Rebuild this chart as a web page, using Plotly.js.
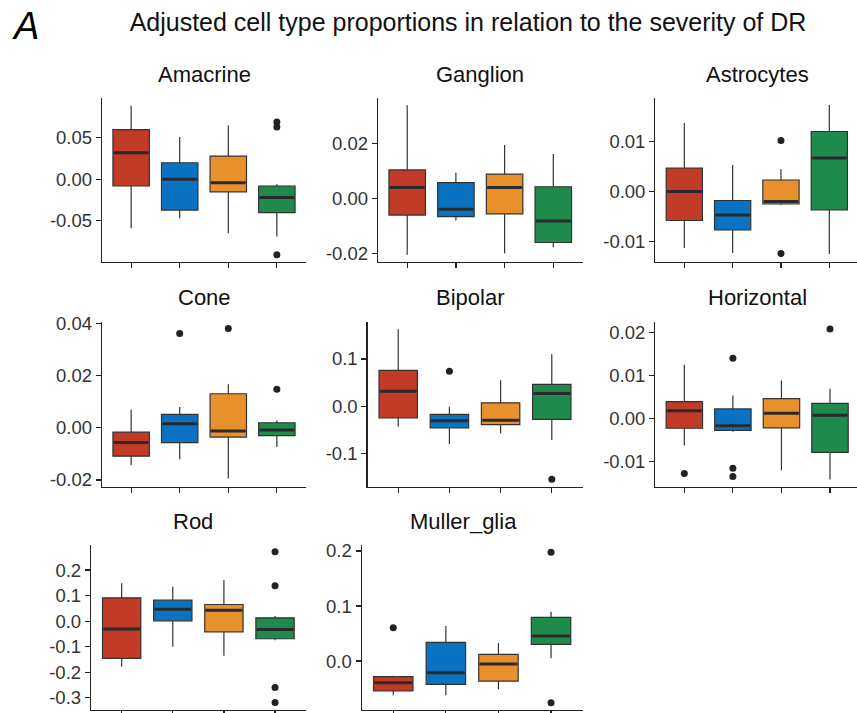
<!DOCTYPE html>
<html>
<head>
<meta charset="utf-8">
<script src="https://cdn.plot.ly/plotly-3.0.1.min.js"></script>
<style>
html,body{margin:0;padding:0;background:#fff;}
#chart{width:857px;height:713px;}
</style>
</head>
<body>
<div id="chart"></div>
<script>
// ---------- DATA ----------
const panels = ["Amacrine","Ganglion","Astrocytes","Cone","Bipolar","Horizontal","Rod","Muller_glia"];
const groups = [1,2,3,4];
const groupColors = ["#C23B26","#0A72C3","#E8912C","#1E8A4C"];

const upperFence = [
  [0.0887, 0.051, 0.065, -0.006],
  [0.0339, 0.0093, 0.0194, 0.0161],
  [0.0137, 0.0053, 0.0045, 0.0173],
  [0.007, 0.0079, 0.0166, 0.0028],
  [0.163, -0.0014, 0.055, 0.11],
  [0.0126, 0.0054, 0.0089, 0.007],
  [0.148, 0.135, 0.161, 0.02],
  [-0.0267, 0.0636, 0.033, 0.0897]
];
const q3 = [
  [0.060, 0.020, 0.028, -0.008],
  [0.0103, 0.0057, 0.0088, 0.0042],
  [0.0047, -0.0018, 0.0023, 0.012],
  [-0.0017, 0.0051, 0.013, 0.0019],
  [0.076, -0.0176, 0.007, 0.046],
  [0.004, 0.0023, 0.0047, 0.0036],
  [0.091, 0.082, 0.065, 0.013],
  [-0.0285, 0.034, 0.012, 0.0794]
];
const median = [
  [0.032, 0.0, -0.004, -0.022],
  [0.0039, -0.004, 0.0039, -0.0083],
  [0.0, -0.0047, -0.002, 0.0067],
  [-0.0057, 0.0015, -0.0013, -0.0009],
  [0.0318, -0.031, -0.0297, 0.027],
  [0.0019, -0.0016, 0.0013, 0.0008],
  [-0.031, 0.046, 0.043, -0.033],
  [-0.0394, -0.0212, -0.0055, 0.0455]
];
const q1 = [
  [-0.008, -0.037, -0.015, -0.040],
  [-0.0061, -0.0067, -0.0057, -0.0161],
  [-0.0058, -0.0077, -0.0025, -0.0037],
  [-0.0109, -0.0057, -0.0036, -0.003],
  [-0.0247, -0.046, -0.039, -0.028],
  [-0.0022, -0.0027, -0.0021, -0.0078],
  [-0.146, 0.001, -0.042, -0.069],
  [-0.0545, -0.0424, -0.0364, 0.0303]
];
const lowerFence = [
  [-0.059, -0.047, -0.065, -0.069],
  [-0.0206, -0.0081, -0.020, -0.0178],
  [-0.0113, -0.0123, -0.0027, -0.0125],
  [-0.0144, -0.0121, -0.0195, -0.0074],
  [-0.0438, -0.0805, -0.058, -0.072],
  [-0.0062, -0.003, -0.012, -0.0141],
  [-0.179, -0.1, -0.136, -0.075],
  [-0.062, -0.062, -0.0515, 0.0049]
];
const outlierGroup = [
  [4,4,4],
  [],
  [3,3],
  [2,3,4],
  [2,4],
  [1,2,2,2,4],
  [4,4,4,4],
  [1,4,4]
];
const outlierValue = [
  [0.069, 0.063, -0.091],
  [],
  [0.0102, -0.0124],
  [0.0361, 0.038, 0.0147],
  [0.0741, -0.155],
  [-0.0127, 0.0141, -0.0115, -0.0134, 0.0209],
  [0.272, 0.138, -0.26, -0.319],
  [0.0606, 0.1976, -0.0758]
];
const yTickVals = [
  [-0.10,-0.05,0.00,0.05],
  [-0.02,0.00,0.02],
  [-0.01,0.00,0.01],
  [-0.02,0.00,0.02,0.04],
  [-0.1,0.0,0.1],
  [-0.01,0.00,0.01,0.02],
  [-0.3,-0.2,-0.1,0.0,0.1,0.2],
  [0.0,0.1,0.2]
];
const yTickText = [
  ["-0.10","-0.05","0.00","0.05"],
  ["-0.02","0.00","0.02"],
  ["-0.01","0.00","0.01"],
  ["-0.02","0.00","0.02","0.04"],
  ["-0.1","0.0","0.1"],
  ["-0.01","0.00","0.01","0.02"],
  ["-0.3","-0.2","-0.1","0.0","0.1","0.2"],
  ["0.0","0.1","0.2"]
];
const yRanges = [
  [-0.0996, 0.098],
  [-0.0232, 0.0365],
  [-0.0141, 0.0187],
  [-0.0226, 0.0406],
  [-0.1708, 0.179],
  [-0.0158, 0.0226],
  [-0.348, 0.298],
  [-0.089, 0.2109]
];
const mainTitle = "Adjusted cell type proportions in relation to the severity of DR";
const panelLetter = "A";

// ---------- LAYOUT (pixels) ----------
const W = 857, H = 713;
const pxX = [[102,306],[378,582.5],[655.3,857],[102,306],[367.5,582.5],[655.2,857],[91,305.7],[361.7,582.6]];
const xRangeEnd = [4.6,4.6,4.573,4.6,4.6,4.556,4.6,4.6];
const pxY = [[98,262],[98,262],[98,262],[321.7,486.7],[321.7,486.7],[321.7,486.7],[545,710],[545,710]];
const titleY = [75,75,75,297,297,297,521.5,521.5];

const FONT = "Liberation Sans, Arial, Helvetica, sans-serif";
const BOX_W = 0.75;
const traces = [];
const layout = {
  width: W, height: H,
  margin: {l:0,r:0,t:0,b:0},
  paper_bgcolor: "#fff", plot_bgcolor: "#fff",
  showlegend: false,
  boxmode: "overlay",
  font: {family: FONT, color: "#222"},
  title: {text: mainTitle, x: 468/W, xanchor: "center", y: 1-22/H, yanchor: "middle",
          font: {family: FONT, size: 25, color: "#111"}},
  annotations: [],
  hovermode: false
};

panels.forEach((name, p) => {
  const sfx = p === 0 ? "" : String(p+1);
  const xa = "x" + sfx, ya = "y" + sfx;
  groups.forEach((g, k) => {
    traces.push({
      type: "box", xaxis: xa, yaxis: ya,
      x: [g], q1: [q1[p][k]], median: [median[p][k]], q3: [q3[p][k]],
      lowerfence: [lowerFence[p][k]], upperfence: [upperFence[p][k]],
      width: BOX_W, whiskerwidth: 0, boxpoints: false,
      fillcolor: groupColors[k],
      line: {color: "#333", width: 1.2}
    });
  });
  const mx = [], my = [];
  groups.forEach((g, k) => {
    mx.push(g - BOX_W/2 + 0.02, g + BOX_W/2 - 0.02, null);
    my.push(median[p][k], median[p][k], null);
  });
  traces.push({type:"scatter", mode:"lines", xaxis: xa, yaxis: ya, x: mx, y: my,
    line: {color:"#2a2a2a", width: 3}, hoverinfo:"skip"});
  if (outlierGroup[p].length) {
    traces.push({type:"scatter", mode:"markers", xaxis: xa, yaxis: ya,
      x: outlierGroup[p], y: outlierValue[p],
      marker: {color:"#222", size: 7}, hoverinfo:"skip"});
  }
  layout["xaxis" + sfx] = {
    domain: [pxX[p][0]/W, pxX[p][1]/W], range: [0.4, xRangeEnd[p]], anchor: ya,
    showgrid: false, zeroline: false, showline: true, linecolor: "#222", linewidth: 1.2,
    ticks: "outside", ticklen: 5, tickwidth: 1.2, tickcolor: "#222",
    tickvals: groups, showticklabels: false, fixedrange: true
  };
  layout["yaxis" + sfx] = {
    domain: [1 - pxY[p][1]/H, 1 - pxY[p][0]/H], range: yRanges[p], anchor: xa,
    showgrid: false, zeroline: false, showline: true, linecolor: "#222", linewidth: 1.2,
    ticks: "outside", ticklen: 5, tickwidth: 1.2, tickcolor: "#222",
    tickvals: yTickVals[p], ticktext: yTickText[p],
    tickfont: {family: FONT, size: 18.5, color: "#333"}, fixedrange: true
  };
  layout.annotations.push({
    text: name, xref: "paper", yref: "paper",
    x: (pxX[p][0] + pxX[p][0] + 204)/2/W, y: 1 - titleY[p]/H,
    xanchor: "center", yanchor: "middle", showarrow: false,
    font: {family: FONT, size: 22, color: "#111"}
  });
});
layout.annotations.push({
  text: "<i>" + panelLetter + "</i>", xref:"paper", yref:"paper",
  x: 25/W, y: 1 - 26/H, xanchor:"center", yanchor:"middle", showarrow:false,
  font: {family: FONT, size: 38, color:"#000"}
});

Plotly.newPlot("chart", traces, layout, {staticPlot: true, displayModeBar: false});
</script>
</body>
</html>
